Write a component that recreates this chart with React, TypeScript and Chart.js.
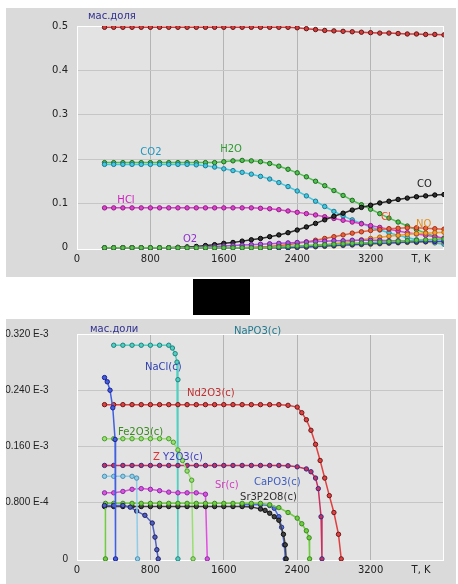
import React, { useEffect, useRef } from "react";
import { Chart, registerables } from "chart.js";
Chart.register(...registerables);

// ---------- shared axis ----------
const X_TICKS = [0, 800, 1600, 2400, 3200, 3750];
const X_LABELS = ["0", "800", "1600", "2400", "3200", "T, K"];

// ---------- top chart (gas phase) ----------
const TEMPS = [300, 400, 500, 600, 700, 800, 900, 1000, 1100, 1200, 1300, 1400, 1500, 1600, 1700, 1800, 1900, 2000, 2100, 2200, 2300, 2400, 2500, 2600, 2700, 2800, 2900, 3000, 3100, 3200, 3300, 3400, 3500, 3600, 3700, 3800, 3900, 4000];
const N2 = [0.497, 0.497, 0.497, 0.497, 0.497, 0.497, 0.497, 0.497, 0.497, 0.497, 0.497, 0.497, 0.497, 0.497, 0.497, 0.497, 0.497, 0.497, 0.497, 0.497, 0.497, 0.496, 0.494, 0.492, 0.490, 0.489, 0.488, 0.487, 0.486, 0.485, 0.484, 0.484, 0.483, 0.482, 0.482, 0.481, 0.481, 0.480];
const CO2 = [0.188, 0.188, 0.188, 0.188, 0.188, 0.188, 0.188, 0.188, 0.188, 0.188, 0.187, 0.185, 0.182, 0.178, 0.174, 0.170, 0.166, 0.161, 0.155, 0.147, 0.138, 0.128, 0.117, 0.105, 0.093, 0.082, 0.072, 0.063, 0.055, 0.047, 0.040, 0.034, 0.028, 0.023, 0.018, 0.014, 0.011, 0.008];
const H2O = [0.192, 0.192, 0.192, 0.192, 0.192, 0.192, 0.192, 0.192, 0.192, 0.192, 0.192, 0.192, 0.192, 0.194, 0.196, 0.197, 0.196, 0.194, 0.190, 0.184, 0.177, 0.169, 0.160, 0.150, 0.140, 0.129, 0.118, 0.107, 0.097, 0.087, 0.077, 0.067, 0.058, 0.049, 0.041, 0.033, 0.026, 0.020];
const HCL = [0.090, 0.090, 0.090, 0.090, 0.090, 0.090, 0.090, 0.090, 0.090, 0.090, 0.090, 0.090, 0.090, 0.090, 0.090, 0.090, 0.090, 0.089, 0.088, 0.086, 0.083, 0.080, 0.077, 0.074, 0.070, 0.066, 0.062, 0.058, 0.054, 0.050, 0.046, 0.042, 0.038, 0.034, 0.031, 0.028, 0.025, 0.022];
const CO = [0, 0, 0, 0, 0, 0, 0, 0, 0.001, 0.002, 0.003, 0.005, 0.007, 0.010, 0.012, 0.015, 0.018, 0.021, 0.025, 0.029, 0.034, 0.040, 0.047, 0.055, 0.063, 0.071, 0.078, 0.085, 0.091, 0.096, 0.101, 0.105, 0.109, 0.112, 0.115, 0.117, 0.119, 0.120];
const CL = [0, 0, 0, 0, 0, 0, 0, 0, 0, 0, 0, 0, 0, 0, 0, 0, 0.001, 0.002, 0.003, 0.005, 0.007, 0.010, 0.013, 0.017, 0.021, 0.025, 0.029, 0.033, 0.036, 0.039, 0.041, 0.043, 0.044, 0.045, 0.045, 0.044, 0.043, 0.042];
const NO = [0, 0, 0, 0, 0, 0, 0, 0, 0, 0, 0, 0, 0, 0, 0, 0, 0, 0, 0, 0, 0.001, 0.002, 0.003, 0.005, 0.007, 0.009, 0.012, 0.015, 0.018, 0.021, 0.024, 0.026, 0.028, 0.030, 0.032, 0.033, 0.034, 0.035];
const O2 = [0, 0, 0, 0, 0, 0, 0, 0, 0, 0, 0.001, 0.002, 0.003, 0.004, 0.005, 0.006, 0.007, 0.008, 0.009, 0.010, 0.011, 0.012, 0.013, 0.014, 0.015, 0.016, 0.016, 0.017, 0.017, 0.017, 0.017, 0.016, 0.016, 0.015, 0.015, 0.014, 0.014, 0.013];
const H2 = [0, 0, 0, 0, 0, 0, 0, 0, 0, 0, 0, 0, 0, 0, 0, 0, 0, 0, 0, 0, 0, 0, 0.001, 0.002, 0.003, 0.004, 0.005, 0.006, 0.007, 0.008, 0.009, 0.010, 0.011, 0.012, 0.012, 0.013, 0.013, 0.013];
const OH = [0, 0, 0, 0, 0, 0, 0, 0, 0, 0, 0, 0, 0, 0, 0, 0, 0, 0, 0, 0, 0, 0.001, 0.002, 0.003, 0.004, 0.005, 0.006, 0.007, 0.008, 0.009, 0.010, 0.011, 0.012, 0.013, 0.013, 0.014, 0.014, 0.015];
const NA = [0, 0, 0, 0, 0, 0, 0, 0, 0, 0, 0, 0, 0, 0, 0, 0, 0, 0, 0.001, 0.002, 0.003, 0.004, 0.005, 0.006, 0.007, 0.008, 0.009, 0.010, 0.011, 0.012, 0.013, 0.014, 0.015, 0.016, 0.017, 0.018, 0.019, 0.020];

const TOP_Y_TICKS = [0, 0.1, 0.2, 0.3, 0.4, 0.5];
const TOP_Y_LABELS = ["0", "0.1", "0.2", "0.3", "0.4", "0.5"];

const TOP_TEXTS = [
  { text: "мас.доля", t: 120, v: 0.5225, color: "#303090" },
  { text: "CO2", t: 690, v: 0.214, color: "#2098c0" },
  { text: "H2O", t: 1560, v: 0.221, color: "#2f9a2f" },
  { text: "HCl", t: 440, v: 0.106, color: "#d020c0" },
  { text: "O2", t: 1155, v: 0.018, color: "#9030d0" },
  { text: "CO", t: 3706, v: 0.142, color: "#202020" },
  { text: "Cl", t: 3313, v: 0.068, color: "#e05020" },
  { text: "NO", t: 3695, v: 0.052, color: "#e09020" },
];

// ---------- bottom chart (condensed phases) ----------
const NAPO3_T = [400, 500, 600, 700, 800, 900, 1000, 1040, 1070, 1090, 1100, 1100];
const NAPO3_V = [0.304e-3, 0.304e-3, 0.304e-3, 0.304e-3, 0.304e-3, 0.304e-3, 0.304e-3, 0.300e-3, 0.292e-3, 0.280e-3, 0.255e-3, 0];
const NACL_T = [300, 330, 360, 390, 415, 420];
const NACL_V = [0.258e-3, 0.252e-3, 0.240e-3, 0.215e-3, 0.17e-3, 0];
const ND2O3_T = [300, 400, 500, 600, 700, 800, 900, 1000, 1100, 1200, 1300, 1400, 1500, 1600, 1700, 1800, 1900, 2000, 2100, 2200, 2300, 2400, 2450, 2500, 2550, 2600, 2650, 2700, 2750, 2800, 2850, 2880];
const ND2O3_V = [0.2195e-3, 0.2195e-3, 0.2195e-3, 0.2195e-3, 0.2195e-3, 0.2195e-3, 0.2195e-3, 0.2195e-3, 0.2195e-3, 0.2195e-3, 0.2195e-3, 0.2195e-3, 0.2195e-3, 0.2195e-3, 0.2195e-3, 0.2195e-3, 0.2195e-3, 0.2195e-3, 0.2195e-3, 0.2195e-3, 0.2185e-3, 0.216e-3, 0.208e-3, 0.198e-3, 0.183e-3, 0.163e-3, 0.14e-3, 0.115e-3, 0.09e-3, 0.066e-3, 0.035e-3, 0];
const Y2O3_T = [300, 400, 500, 600, 700, 800, 900, 1000, 1100, 1200, 1300, 1400, 1500, 1600, 1700, 1800, 1900, 2000, 2100, 2200, 2300, 2400, 2500, 2550, 2600, 2630, 2660, 2670];
const Y2O3_V = [0.133e-3, 0.133e-3, 0.133e-3, 0.133e-3, 0.133e-3, 0.133e-3, 0.133e-3, 0.133e-3, 0.133e-3, 0.133e-3, 0.133e-3, 0.133e-3, 0.133e-3, 0.133e-3, 0.133e-3, 0.133e-3, 0.133e-3, 0.133e-3, 0.133e-3, 0.133e-3, 0.1325e-3, 0.131e-3, 0.128e-3, 0.124e-3, 0.115e-3, 0.1e-3, 0.06e-3, 0];
const FE2O3_T = [300, 400, 500, 600, 700, 800, 900, 1000, 1050, 1100, 1150, 1200, 1250, 1265];
const FE2O3_V = [0.171e-3, 0.171e-3, 0.171e-3, 0.171e-3, 0.171e-3, 0.171e-3, 0.171e-3, 0.171e-3, 0.166e-3, 0.155e-3, 0.14e-3, 0.125e-3, 0.112e-3, 0];
const PH6_T = [300, 400, 500, 600, 650, 660];
const PH6_V = [0.1175e-3, 0.1175e-3, 0.1175e-3, 0.1175e-3, 0.115e-3, 0];
const SR_T = [300, 400, 500, 600, 700, 800, 900, 1000, 1100, 1200, 1300, 1400, 1420];
const SR_V = [0.094e-3, 0.094e-3, 0.096e-3, 0.099e-3, 0.1e-3, 0.099e-3, 0.097e-3, 0.095e-3, 0.094e-3, 0.094e-3, 0.094e-3, 0.092e-3, 0];
const GREEN_T = [310, 310, 400, 500, 600, 700, 800, 900, 1000, 1100, 1200, 1300, 1400, 1500, 1600, 1700, 1800, 1900, 2000, 2100, 2200, 2300, 2400, 2450, 2500, 2530, 2535];
const GREEN_V = [0, 0.079e-3, 0.079e-3, 0.079e-3, 0.079e-3, 0.079e-3, 0.079e-3, 0.079e-3, 0.079e-3, 0.079e-3, 0.079e-3, 0.079e-3, 0.079e-3, 0.079e-3, 0.079e-3, 0.079e-3, 0.079e-3, 0.079e-3, 0.079e-3, 0.077e-3, 0.073e-3, 0.066e-3, 0.058e-3, 0.05e-3, 0.04e-3, 0.03e-3, 0];
const SR3P2O8_T = [300, 400, 500, 600, 700, 800, 900, 1000, 1100, 1200, 1300, 1400, 1500, 1600, 1700, 1800, 1900, 2000, 2050, 2100, 2150, 2200, 2250, 2270, 2280];
const SR3P2O8_V = [0.0745e-3, 0.0745e-3, 0.0745e-3, 0.0745e-3, 0.0745e-3, 0.0745e-3, 0.0745e-3, 0.0745e-3, 0.0745e-3, 0.0745e-3, 0.0745e-3, 0.0745e-3, 0.0745e-3, 0.0745e-3, 0.0745e-3, 0.0745e-3, 0.074e-3, 0.071e-3, 0.069e-3, 0.065e-3, 0.06e-3, 0.055e-3, 0.035e-3, 0.02e-3, 0];
const CAPO3_T = [1800, 1900, 2000, 2100, 2150, 2200, 2230, 2260, 2270];
const CAPO3_V = [0.077e-3, 0.077e-3, 0.077e-3, 0.076e-3, 0.072e-3, 0.06e-3, 0.045e-3, 0.02e-3, 0];
const NAVY_T = [300, 400, 500, 580, 650, 740, 820, 850, 870, 885];
const NAVY_V = [0.076e-3, 0.076e-3, 0.076e-3, 0.0736e-3, 0.068e-3, 0.062e-3, 0.051e-3, 0.031e-3, 0.013e-3, 0];

const BOTTOM_Y_TICKS = [0, 0.08e-3, 0.16e-3, 0.24e-3, 0.32e-3];
const BOTTOM_Y_LABELS = ["0", "0.800 E-4", "0.160 E-3", "0.240 E-3", "0.320 E-3"];

const BOTTOM_TEXTS = [
  { text: "мас.доли", t: 142, v: 0.327e-3, color: "#303090" },
  { text: "NaPO3(c)", t: 1711, v: 0.324e-3, color: "#207a90" },
  { text: "NaCl(c)", t: 741, v: 0.272e-3, color: "#3040b0" },
  { text: "Nd2O3(c)", t: 1199, v: 0.235e-3, color: "#c03030" },
  { text: "Fe2O3(c)", t: 447, v: 0.180e-3, color: "#3a8a20" },
  { text: "Z", t: 828, v: 0.144e-3, color: "#e03030" },
  { text: "Y2O3(c)", t: 937, v: 0.144e-3, color: "#4040c0" },
  { text: "Sr(c)", t: 1504, v: 0.105e-3, color: "#d040c0" },
  { text: "CaPO3(c)", t: 1929, v: 0.109e-3, color: "#4060c0" },
  { text: "Sr3P2O8(c)", t: 1777, v: 0.088e-3, color: "#303030" },
];

// ---------- helpers ----------
const FONT = "'DejaVu Sans', sans-serif";
const NARROW = "'Liberation Sans', sans-serif";

function series(label: string, xs: number[], ys: number[], color: string, dark: string) {
  return {
    label,
    data: xs.map((x, i) => ({ x, y: ys[i] })),
    borderColor: color,
    borderWidth: 1.5,
    pointRadius: 2.2,
    pointBorderWidth: 1,
    pointBackgroundColor: color,
    pointBorderColor: dark,
    tension: 0,
  };
}

const framePlugin = {
  id: "frame",
  beforeDraw(chart: any) {
    const { ctx, chartArea: a } = chart;
    ctx.save();
    ctx.fillStyle = "#e3e3e3";
    ctx.fillRect(a.left, a.top, a.right - a.left, a.bottom - a.top);
    ctx.restore();
  },
  beforeDatasetsDraw(chart: any) {
    const { ctx, chartArea: a } = chart;
    ctx.save();
    ctx.strokeStyle = "#ffffff";
    ctx.lineWidth = 1;
    ctx.strokeRect(a.left + 0.5, a.top + 0.5, a.right - a.left - 1, a.bottom - a.top - 1);
    ctx.restore();
  },
  afterDatasetsDraw(chart: any) {
    const texts = chart.options.plugins.frame?.texts || [];
    const { ctx } = chart;
    const xs = chart.scales.x;
    const ys = chart.scales.y;
    ctx.save();
    ctx.font = `10px ${FONT}`;
    ctx.textAlign = "left";
    ctx.textBaseline = "middle";
    for (const t of texts) {
      ctx.fillStyle = t.color;
      ctx.fillText(t.text, xs.getPixelForValue(t.t), ys.getPixelForValue(t.v));
    }
    ctx.restore();
  },
};

function makeConfig(datasets: any[], yTicks: number[], yLabels: string[], yMin: number, yMax: number, xHeight: number, top: number, texts: any[], longPad: boolean) {
  return {
    type: "line",
    data: { datasets },
    plugins: [framePlugin],
    options: {
      animation: false,
      responsive: true,
      maintainAspectRatio: false,
      layout: { padding: { left: 0, right: 12, top, bottom: 0 } },
      plugins: { legend: { display: false }, tooltip: { enabled: false }, frame: { texts } },
      scales: {
        x: {
          type: "linear",
          min: 0,
          max: 4000,
          afterBuildTicks: (s: any) => { s.ticks = X_TICKS.map((v) => ({ value: v })); },
          afterFit: (s: any) => { s.height = xHeight; },
          ticks: {
            padding: 3,
            maxRotation: 0,
            autoSkip: false,
            color: "#222",
            font: { family: FONT, size: 10 },
            callback: (v: any) => { const i = X_TICKS.indexOf(Number(v)); return i >= 0 ? X_LABELS[i] : ""; },
          },
          grid: {
            drawTicks: false,
            color: (c: any) => (c.tick && (c.tick.value === 0 || c.tick.value === 3750) ? "rgba(0,0,0,0)" : "#b4b4b4"),
          },
          border: { display: false },
        },
        y: {
          type: "linear",
          min: yMin,
          max: yMax,
          afterBuildTicks: (s: any) => { s.ticks = yTicks.map((v) => ({ value: v })); },
          afterFit: (s: any) => { s.width = 71; },
          ticks: {
            padding: 9,
            autoSkip: false,
            color: "#222",
            font: { family: longPad ? NARROW : FONT, size: 10 },
            callback: (v: any) => {
              const i = yTicks.findIndex((t) => Math.abs(t - Number(v)) < 1e-12);
              if (i < 0) return "";
              const lab = yLabels[i];
              return longPad && lab.length > 3 ? lab + "       " : lab;
            },
          },
          grid: {
            drawTicks: false,
            color: (c: any) => (c.tick && (c.index === 0 || c.index === yTicks.length - 1) ? "rgba(0,0,0,0)" : "#c6c6c6"),
          },
          border: { display: false },
        },
      },
    },
  };
}

function useChart(ref: React.RefObject<HTMLCanvasElement | null>, build: () => any) {
  useEffect(() => {
    if (!ref.current) return;
    const chart = new Chart(ref.current, build());
    return () => chart.destroy();
  }, []);
}

export default function App() {
  const topRef = useRef<HTMLCanvasElement | null>(null);
  const botRef = useRef<HTMLCanvasElement | null>(null);

  useChart(topRef, () =>
    makeConfig(
      [
        series("N2", TEMPS, N2, "#d83a3a", "#5a1a1a"),
        series("Na", TEMPS, NA, "#60c050", "#2a7a2a"),
        series("OH", TEMPS, OH, "#3050d0", "#202080"),
        series("H2", TEMPS, H2, "#e8c830", "#a08010"),
        series("O2", TEMPS, O2, "#b050e0", "#6a2090"),
        series("NO", TEMPS, NO, "#f0a030", "#b06010"),
        series("Cl", TEMPS, CL, "#e86040", "#a03010"),
        series("CO", TEMPS, CO, "#303030", "#000000"),
        series("HCl", TEMPS, HCL, "#e040d0", "#8a2080"),
        series("CO2", TEMPS, CO2, "#40c8e0", "#207890"),
        series("H2O", TEMPS, H2O, "#50c050", "#1f6a1f"),
      ],
      TOP_Y_TICKS, TOP_Y_LABELS, -0.005, 0.5, 27, 18, TOP_TEXTS, false
    )
  );

  useChart(botRef, () =>
    makeConfig(
      [
        series("NaCl(c)", NACL_T, NACL_V, "#4060e0", "#202090"),
        series("phase", PH6_T, PH6_V, "#90cce8", "#4a90b0"),
        series("navy", NAVY_T, NAVY_V, "#5060c0", "#202060"),
        series("Green", GREEN_T, GREEN_V, "#70cc40", "#3a8a20"),
        series("Sr3P2O8(c)", SR3P2O8_T, SR3P2O8_V, "#404040", "#101010"),
        series("CaPO3(c)", CAPO3_T, CAPO3_V, "#5070e0", "#2a3a90"),
        series("Sr(c)", SR_T, SR_V, "#e050e0", "#8030a0"),
        series("Fe2O3(c)", FE2O3_T, FE2O3_V, "#98e070", "#4a9a30"),
        series("Y2O3(c)", Y2O3_T, Y2O3_V, "#c83060", "#3a2a80"),
        series("Nd2O3(c)", ND2O3_T, ND2O3_V, "#e04040", "#6a1a1a"),
        series("NaPO3(c)", NAPO3_T, NAPO3_V, "#50d0c0", "#208080"),
      ],
      BOTTOM_Y_TICKS, BOTTOM_Y_LABELS, -0.003e-3, 0.32e-3, 23, 14, BOTTOM_TEXTS, true
    )
  );

  const panel: React.CSSProperties = {
    position: "absolute",
    left: 6,
    width: 450,
    background: "#dadada",
    boxSizing: "border-box",
  };

  return (
    <div style={{ position: "absolute", left: 0, top: 0, width: 458, height: 584, background: "#ffffff", overflow: "hidden" }}>
      <div style={{ ...panel, top: 8, height: 269 }}>
        <canvas ref={topRef} />
      </div>
      <div style={{ position: "absolute", left: 193, top: 279, width: 57, height: 36, background: "#000" }} />
      <div style={{ ...panel, top: 319, height: 265 }}>
        <canvas ref={botRef} />
      </div>
    </div>
  );
}
